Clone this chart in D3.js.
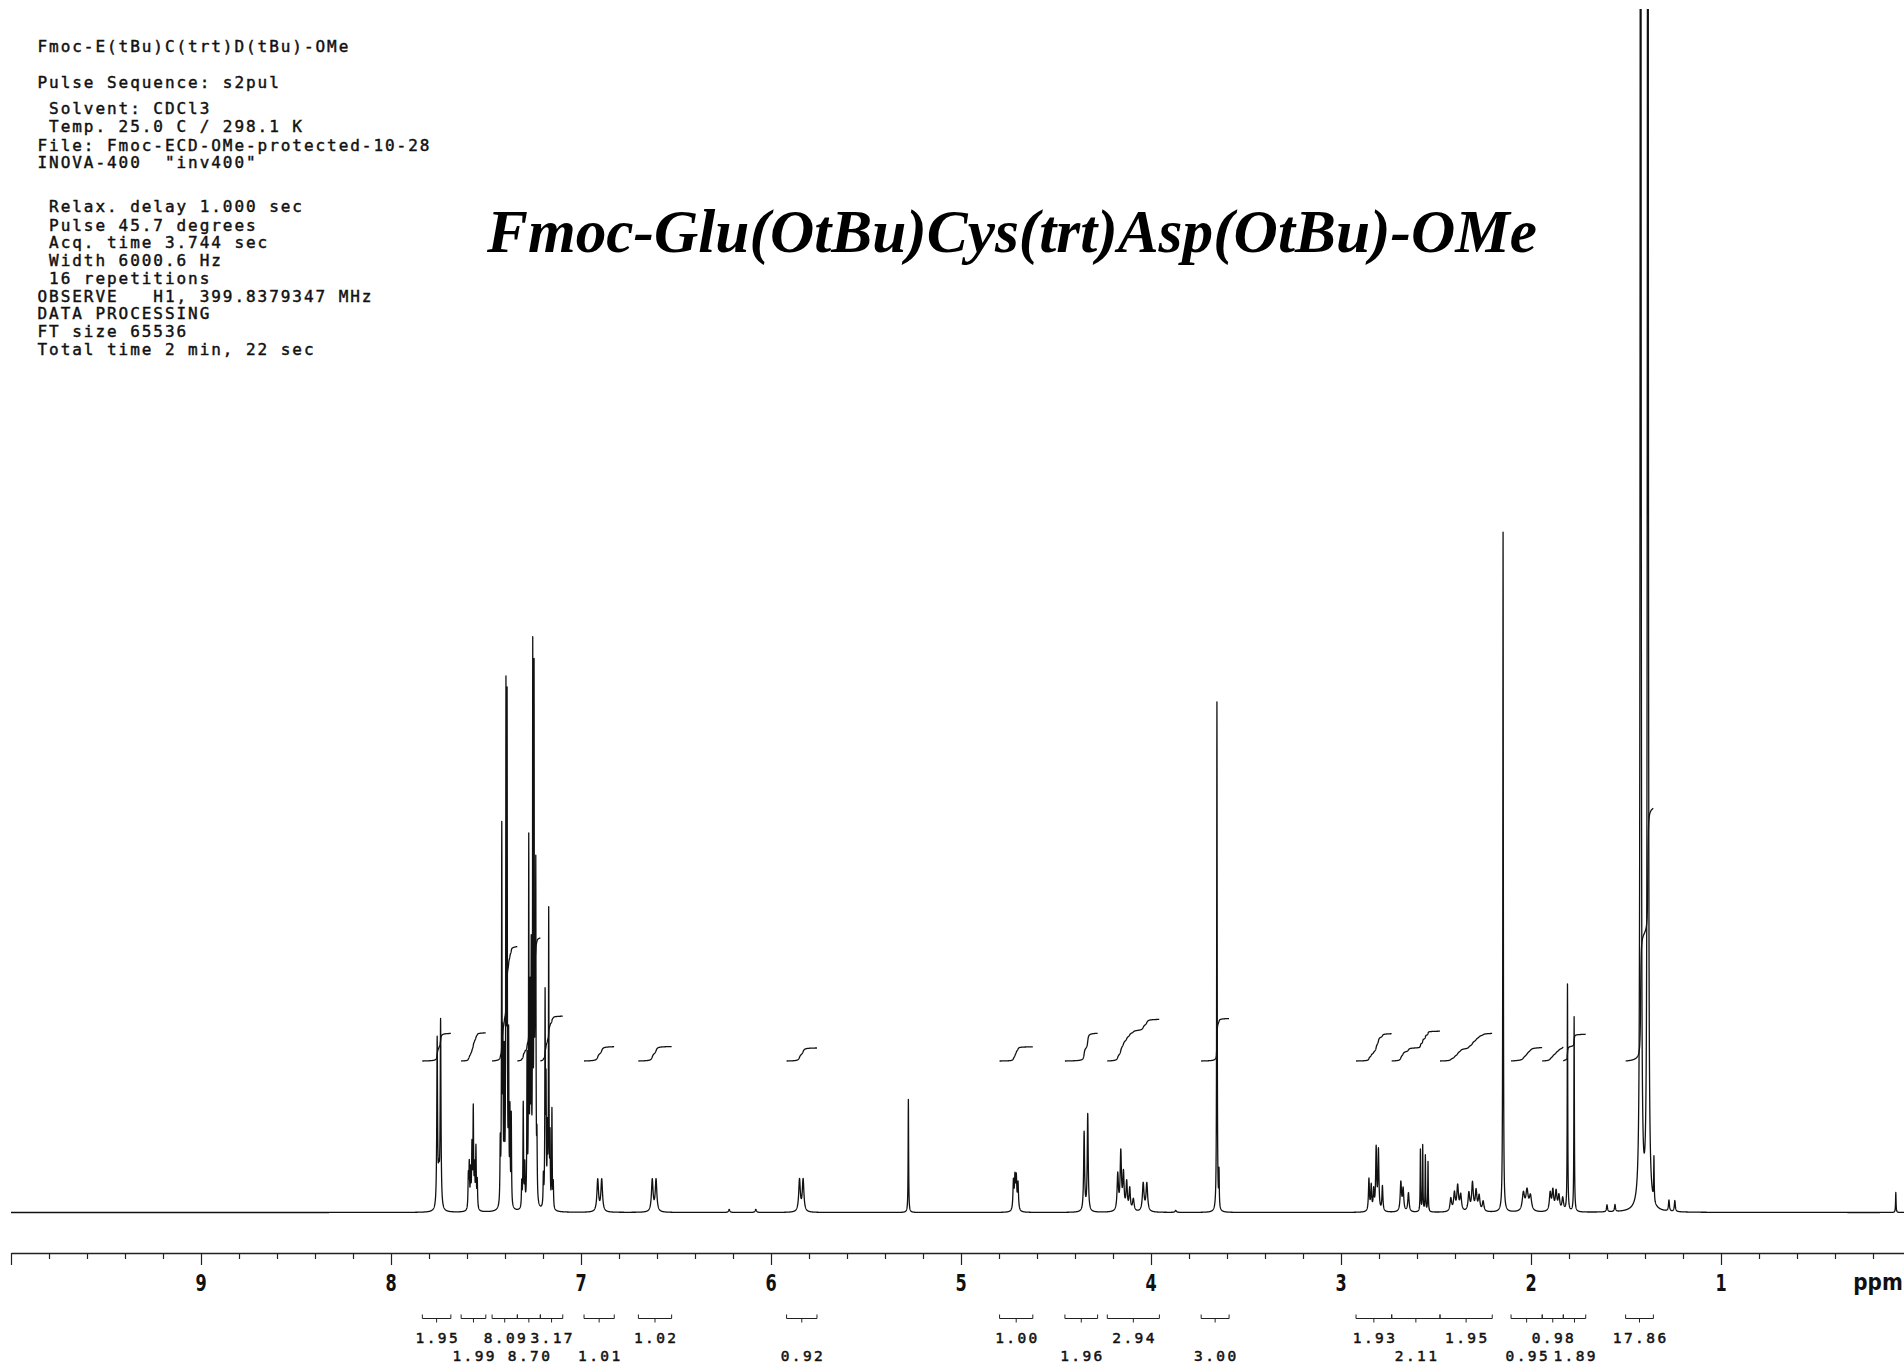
<!DOCTYPE html>
<html><head><meta charset="utf-8">
<script src="https://cdn.jsdelivr.net/npm/d3@7"></script>
<style>
body{margin:0;background:#fff}
svg{display:block;background:#fff}
.hdr{font-family:"DejaVu Sans Mono",monospace;font-size:16px;letter-spacing:1.95px;white-space:pre;fill:#111;stroke:#111;stroke-width:0.45px}
.ttl{font-family:"Liberation Serif","Times New Roman",serif;font-weight:bold;font-style:italic;font-size:62px;fill:#000}
.tick-lbl{font-family:"DejaVu Sans",sans-serif;font-weight:bold;font-size:23px;fill:#111}
.int-lbl{font-family:"DejaVu Sans Mono",monospace;font-size:14.5px;letter-spacing:2.4px;fill:#111;stroke:#111;stroke-width:0.5px}
</style>
</head><body>
<svg id="c" width="1904" height="1365"></svg>
<script>
// ---------- header / title text ----------
const headerLines = [
  "Fmoc-E(tBu)C(trt)D(tBu)-OMe",
  "Pulse Sequence: s2pul",
  " Solvent: CDCl3",
  " Temp. 25.0 C / 298.1 K",
  "File: Fmoc-ECD-OMe-protected-10-28",
  "INOVA-400  \"inv400\"",
  " Relax. delay 1.000 sec",
  " Pulse 45.7 degrees",
  " Acq. time 3.744 sec",
  " Width 6000.6 Hz",
  " 16 repetitions",
  "OBSERVE   H1, 399.8379347 MHz",
  "DATA PROCESSING",
  "FT size 65536",
  "Total time 2 min, 22 sec"
];
const headerBaselines = [52.3, 87.7, 114.3, 132.3, 150.7, 168.3, 212.3, 230.7, 248.3, 266, 284, 301.7, 319.3, 337.3, 355];
const titleText = "Fmoc-Glu(OtBu)Cys(trt)Asp(OtBu)-OMe";

// ---------- spectrum peaks (ppm, height, half-width in ppm) ----------
const peakPpm = [
  7.757, 7.748, 7.739,
  7.593, 7.588, 7.581, 7.574, 7.567, 7.560, 7.553, 7.546,
  7.425, 7.417, 7.411, 7.404, 7.395, 7.389, 7.381, 7.374, 7.367,
  7.312, 7.304, 7.296, 7.284, 7.275, 7.268, 7.262, 7.254, 7.247, 7.242, 7.238, 7.232,
  7.198, 7.189, 7.184, 7.177, 7.170, 7.163, 7.153, 7.146,
  6.912, 6.891, 6.625, 6.605, 6.22, 6.08, 5.850, 5.831, 5.277,
  4.724, 4.716, 4.709, 4.700,
  4.352, 4.333,
  4.175, 4.159, 4.145, 4.128, 4.112, 4.093,
  4.041, 4.022, 3.87,
  3.653, 3.642,
  2.853, 2.841, 2.828, 2.815, 2.803, 2.782,
  2.685, 2.673, 2.645,
  2.582, 2.570, 2.556, 2.542,
  2.422, 2.403, 2.386, 2.370,
  2.327, 2.308, 2.289, 2.273, 2.252,
  2.147,
  2.040, 2.021, 2.003,
  1.899, 1.885, 1.868, 1.853, 1.833,
  1.808, 1.773,
  1.600, 1.558,
  1.423, 1.385, 1.353,
  1.274, 1.243,
  0.080
];
const peakHeight = [
  168, 30, 186,
  33, 43, 36, 60, 98, 38, 60, 28,
  60, 372, 150, 140, 500, 488, 160, 90, 90,
  25, 104, 40, 145, 358, 195, 240, 540, 508, 195, 314, 60,
  30, 208, 115, 70, 294, 66, 98, 25,
  32, 32, 32, 32, 3, 3, 32, 32, 113,
  29, 31, 31, 27,
  79, 97,
  36, 58, 36, 28, 22, 12,
  28, 28, 2,
  510, 36,
  32, 25, 20, 62, 60, 25,
  29, 22, 19,
  62, 66, 56, 50,
  13, 18, 25, 16,
  18, 28, 20, 15, 10,
  680,
  18, 20, 15,
  18, 20, 19, 15, 13,
  227, 195,
  7, 7,
  3000, 3000, 44,
  11, 11,
  20
];
const peakWidth = [
  0.0024, 0.004, 0.0024,
  0.002, 0.002, 0.002, 0.002, 0.002, 0.002, 0.002, 0.002,
  0.0018, 0.0016, 0.0016, 0.0016, 0.0014, 0.0014, 0.0016, 0.0016, 0.0016,
  0.0018, 0.0018, 0.0018, 0.0016, 0.0015, 0.0015, 0.0015, 0.0013, 0.0013, 0.0014, 0.0014, 0.0018,
  0.0018, 0.0016, 0.0016, 0.0016, 0.0015, 0.0016, 0.0016, 0.0018,
  0.005, 0.005, 0.005, 0.005, 0.004, 0.004, 0.005, 0.005, 0.0015,
  0.003, 0.003, 0.003, 0.003,
  0.003, 0.003,
  0.004, 0.004, 0.004, 0.004, 0.004, 0.005,
  0.005, 0.005, 0.004,
  0.0015, 0.0015,
  0.003, 0.003, 0.003, 0.003, 0.003, 0.003,
  0.004, 0.004, 0.004,
  0.0015, 0.0015, 0.0015, 0.0015,
  0.005, 0.005, 0.005, 0.005,
  0.005, 0.005, 0.005, 0.005, 0.005,
  0.0015,
  0.007, 0.007, 0.007,
  0.005, 0.005, 0.005, 0.005, 0.005,
  0.0015, 0.0015,
  0.003, 0.003,
  0.0019, 0.0019, 0.0015,
  0.003, 0.003,
  0.0015
];

// ---------- integrals ----------
const intStart = [7.835, 7.631, 7.468, 7.335, 7.214, 6.984, 6.698, 5.918, 4.797, 4.453, 4.230, 3.736, 2.921, 2.733, 2.479, 2.105, 1.941, 1.830, 1.502];
const intEnd   = [7.685, 7.501, 7.335, 7.214, 7.096, 6.825, 6.523, 5.758, 4.622, 4.281, 3.956, 3.589, 2.733, 2.479, 2.204, 1.941, 1.830, 1.712, 1.356];
const intValue = [1.95, 1.99, 8.09, 8.70, 3.17, 1.01, 1.02, 0.92, 1.00, 1.96, 2.94, 3.00, 1.93, 2.11, 1.95, 0.95, 0.98, 1.89, 17.86];
const intLabels = ["1.95","1.99","8.09","8.70","3.17","1.01","1.02","0.92","1.00","1.96","2.94","3.00","1.93","2.11","1.95","0.95","0.98","1.89","17.86"];

// ---------- axis ----------
const tickLabels = [9, 8, 7, 6, 5, 4, 3, 2, 1];
const axisUnit = "ppm";

// =================== drawing ===================
const svg = d3.select("#c");
const x = d3.scaleLinear().domain([10, 0]).range([11, 1911]);
const y = d3.scaleLinear().domain([0, 1204]).range([1212.5, 8.5]);
const yi = d3.scaleLinear().domain([0, 1]).range([1061, 1061 - 14.15]);

// header
svg.append("g").selectAll("text").data(headerLines).join("text")
  .attr("class", "hdr").attr("x", 37.5).attr("y", (d, i) => headerBaselines[i]).text(d => d);

// title
svg.append("text").attr("class", "ttl").attr("x", 487).attr("y", 252)
  .attr("textLength", 1050).attr("lengthAdjust", "spacingAndGlyphs").text(titleText);

// spectrum
const grid = [];
for (let i = 0; i <= 20000; i++) grid.push(10 - i * 0.0005);
peakPpm.forEach(p => grid.push(p));
grid.sort((a, b) => b - a);
const spec = grid.map(p => {
  let s = 0;
  for (let k = 0; k < peakPpm.length; k++) {
    const d = (p - peakPpm[k]) / peakWidth[k];
    s += peakHeight[k] / (1 + d * d);
  }
  return [p, s];
});

svg.append("defs").append("clipPath").attr("id", "plotclip")
  .append("rect").attr("x", 11).attr("y", 9).attr("width", 1893).attr("height", 1300);

const line = d3.line().x(d => x(d[0])).y(d => y(d[1]));
svg.append("path").datum(spec).attr("clip-path", "url(#plotclip)")
  .attr("d", line).attr("fill", "none").attr("stroke", "#111").attr("stroke-width", 1.3)
  .attr("stroke-linejoin", "round");

// integral curves
const gInt = svg.append("g");
intStart.forEach((s0, r) => {
  const e0 = intEnd[r];
  const pts = spec.filter(d => d[0] <= s0 && d[0] >= e0);
  const cum = [0];
  for (let i = 1; i < pts.length; i++) {
    cum.push(cum[i - 1] + (pts[i][1] + pts[i - 1][1]) / 2 * (pts[i - 1][0] - pts[i][0]));
  }
  const tot = cum[cum.length - 1] || 1;
  const curve = pts.map((d, i) => [d[0], intValue[r] * cum[i] / tot]);
  gInt.append("path").datum(curve)
    .attr("d", d3.line().x(d => x(d[0])).y(d => yi(d[1])))
    .attr("fill", "none").attr("stroke", "#111").attr("stroke-width", 1.3);
});

// axis
const tickVals = d3.range(0, 51).map(i => +(10 - i * 0.2).toFixed(1));
const axis = d3.axisBottom(x).tickValues(tickVals).tickSize(6).tickSizeOuter(0).tickFormat("");
const gAx = svg.append("g").attr("transform", "translate(0,1253)").call(axis);
gAx.select(".domain").attr("stroke", "#222").attr("stroke-width", 1.3);
gAx.selectAll(".tick line").attr("stroke", "#222").attr("stroke-width", 1.2)
  .attr("y2", d => Math.abs(d - Math.round(d)) < 1e-6 ? 12 : 6);

svg.append("g").selectAll("text").data(tickLabels).join("text")
  .attr("class", "tick-lbl").attr("text-anchor", "middle")
  .attr("transform", d => `translate(${x(d)},1291) scale(0.7,1)`).text(d => d);
svg.append("text").attr("class", "tick-lbl").attr("text-anchor", "middle")
  .attr("font-size", 20)
  .attr("transform", "translate(1878,1290) scale(0.87,1)").text(axisUnit);

// integral brackets + labels
const gBr = svg.append("g").attr("stroke", "#222").attr("stroke-width", 1).attr("fill", "none");
intStart.forEach((s0, r) => {
  const x0 = x(s0), x1 = x(intEnd[r]), xc = (x0 + x1) / 2;
  gBr.append("path").attr("d", `M${x0},1314.5V1318.5H${x1}V1314.5`);
  gBr.append("path").attr("d", `M${xc},1318.5V1322.5`);
});
svg.append("g").selectAll("text").data(intLabels).join("text")
  .attr("class", "int-lbl").attr("text-anchor", "middle")
  .attr("x", (d, i) => (x(intStart[i]) + x(intEnd[i])) / 2 + 1.2)
  .attr("y", (d, i) => i % 2 === 0 ? 1342.7 : 1360.7)
  .text(d => d);
</script>
</body></html>
